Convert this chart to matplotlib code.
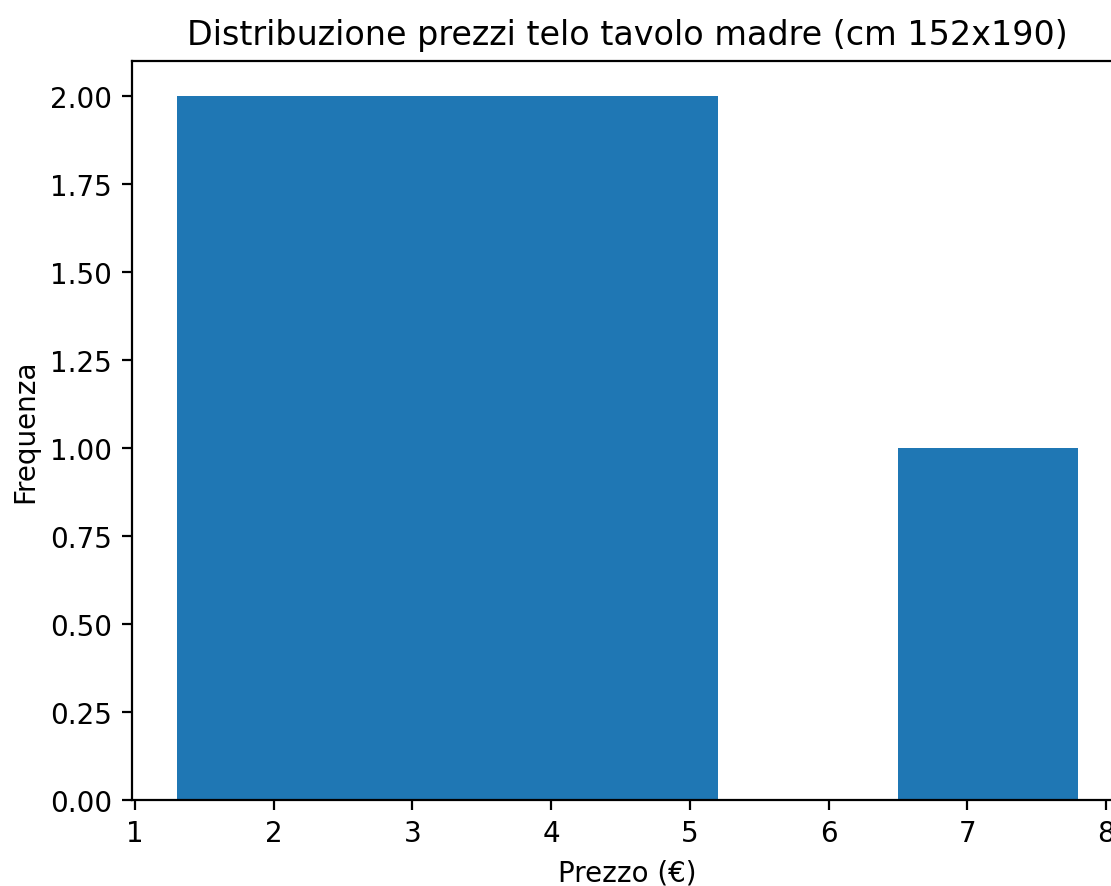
import matplotlib
matplotlib.use("Agg")
import matplotlib.pyplot as plt

# Histogram bins (price edges, €) and counts
bin_edges = [1.3, 2.6, 3.9, 5.2, 6.5, 7.8]
counts = [2, 2, 2, 0, 1]

title = "Distribuzione prezzi telo tavolo madre (cm 152x190)"
xlabel = "Prezzo (€)"
ylabel = "Frequenza"

W, H, DPI = 1111, 887, 200
fig = plt.figure(figsize=(W / DPI, H / DPI), dpi=DPI)
# axes placement in pixels (left, top, width, height) -> figure fractions
ax_left, ax_top, ax_w, ax_h = 131.5, 62.0, 992.0, 739.0
ax = fig.add_axes([ax_left / W, 1 - (ax_top + ax_h) / H, ax_w / W, ax_h / H])

ax.hist(bin_edges[:-1], bins=bin_edges, weights=counts, color="#1f77b4")
ax.set_title(title)
ax.set_xlabel(xlabel)
ax.set_ylabel(ylabel)

fig.savefig("out.png", dpi=DPI)
